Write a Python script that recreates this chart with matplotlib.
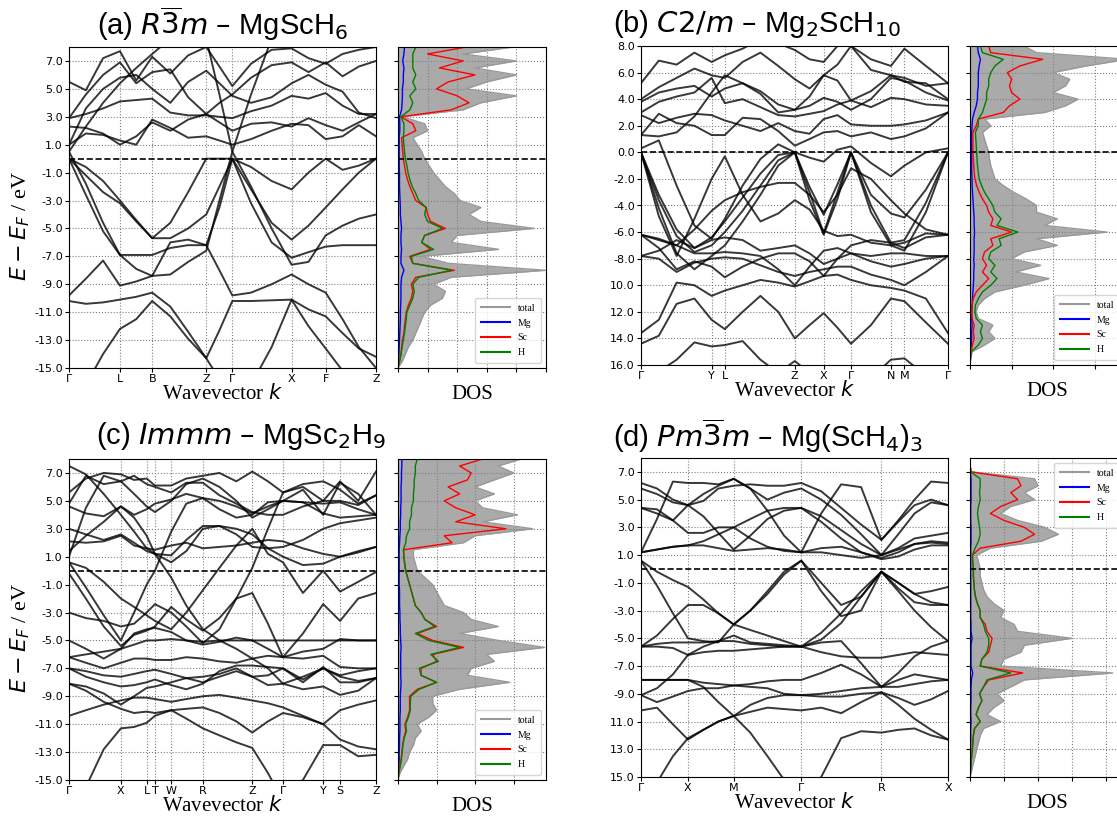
import numpy as np
import matplotlib
matplotlib.use("Agg")
import matplotlib.pyplot as plt

plt.rcParams['mathtext.fontset'] = 'dejavusans'
plt.rcParams['font.family'] = ['DejaVu Sans']

SERIF = 'Liberation Serif'
TITLE_FONT = 'Liberation Sans'

# ---------------- panel (a) R-3m MgScH6 ----------------
a_kgrid = [0, .055, .111, .166, .219, .271, .330, .388, .447, .490, .532,
           .593, .660, .725, .780, .836, .891, .944, 1.0]
a_ksym = [0, .166, .271, .447, .532, .725, .836, 1.0]
a_klab = ['Γ', 'L', 'B', 'Z', 'Γ', 'X', 'F', 'Z']
a_bands = [
    [-17.5, -16.2, -14.0, -12.2, -11.5, -10.2, -11.3, -12.9, -14.3, -15.8, -17.0, -16.2, -13.5, -10.1, -12.0, -13.6, -15.2, -16.5, -17.5],
    [-10.2, -10.4, -10.3, -10.1, -9.9, -9.6, -10.6, -12.4, -14.3, -12.3, -10.2, -10.2, -10.15, -10.1, -10.8, -11.3, -12.5, -13.6, -14.2],
    [-9.8, -8.6, -7.3, -9.1, -8.8, -8.4, -6.0, -5.8, -6.2, -8.0, -9.8, -9.6, -9.0, -8.3, -9.0, -9.6, -11.5, -13.5, -15.0],
    [0.0, -2.6, -5.2, -6.9, -6.9, -6.9, -6.4, -6.2, -6.2, -3.5, 0.0, -3.2, -6.0, -7.1, -6.7, -6.3, -6.2, -6.2, -6.2],
    [0.0, -1.2, -2.4, -3.2, -4.5, -5.7, -5.7, -5.0, -4.0, -2.0, 0.0, -2.2, -4.6, -5.8, -4.8, -3.5, -2.2, -1.0, 0.0],
    [0.5, -1.8, -4.6, -6.9, -7.9, -8.4, -8.3, -7.4, -6.6, -3.0, 0.5, -2.0, -5.0, -7.6, -7.4, -5.5, -4.8, -4.3, -4.0],
    [0.0, -0.6, -1.6, -3.0, -4.4, -5.7, -4.6, -2.4, 0.0, 0.0, 0.0, -0.6, -1.6, -2.2, -1.0, 0.0, -0.8, -0.5, 0.0],
    [0.5, 2.3, 4.0, 5.4, 6.5, 7.5, 8.6, 8.6, 8.6, 4.6, 0.5, 4.6, 8.6, 8.6, 8.6, 8.6, 8.6, 8.6, 8.6],
    [5.5, 4.9, 7.2, 7.7, 5.6, 7.3, 6.1, 7.4, 8.0, 6.6, 5.2, 6.8, 7.8, 7.9, 7.2, 6.8, 7.5, 7.8, 8.0],
    [2.9, 4.6, 6.0, 6.9, 5.4, 6.2, 6.4, 4.4, 3.2, 4.0, 4.6, 5.8, 6.7, 6.9, 6.2, 6.9, 5.9, 6.6, 7.0],
    [1.0, 3.6, 5.0, 5.8, 6.0, 5.0, 4.0, 5.5, 6.3, 5.4, 4.5, 4.0, 4.4, 5.4, 6.0, 5.3, 4.8, 3.3, 2.9],
    [2.9, 3.2, 3.6, 4.1, 4.2, 4.3, 3.3, 3.1, 3.1, 3.0, 2.9, 3.4, 3.8, 4.5, 4.3, 4.7, 3.8, 3.2, 3.2],
    [2.3, 2.2, 1.8, 1.0, 1.6, 2.6, 2.0, 2.8, 3.2, 2.6, 2.0, 2.5, 2.6, 2.3, 2.9, 2.4, 2.0, 2.6, 3.2],
    [1.0, 1.8, 1.7, 1.3, 1.0, 2.8, 2.2, 1.5, 1.6, 1.3, 1.0, 1.4, 2.0, 2.5, 2.4, 1.4, 1.6, 2.4, 1.6],
]
a_dos_e = np.arange(-15, 8.01, 0.5)
a_tot = [0.0, 0.15, 0.25, 0.35, 0.5, 0.6, 0.7, 0.8, 0.9, 1.1, 1.5, 1.6, 1.2, 1.8, 5.0, 1.7,
         0.8, 3.4, 1.8, 2.0, 4.6, 2.8, 2.4, 2.8, 2.1, 1.9, 1.6, 1.4, 1.2, 1.05, 0.9, 0.8,
         0.65, 0.5, 1.0, 0.9, 0.15, 2.2, 2.8, 4.0, 2.3, 3.0, 4.0, 2.6, 4.0, 2.2, 3.9]
a_mg = [0.0, 0.02, 0.03, 0.04, 0.05, 0.06, 0.07, 0.08, 0.08, 0.09, 0.1, 0.1, 0.1, 0.12, 0.2, 0.1,
        0.1, 0.12, 0.1, 0.1, 0.12, 0.1, 0.08, 0.08, 0.07, 0.06, 0.05, 0.05, 0.05, 0.04, 0.04, 0.04,
        0.04, 0.04, 0.06, 0.06, 0.05, 0.12, 0.14, 0.15, 0.15, 0.18, 0.18, 0.2, 0.16, 0.2, 0.22]
a_sc = [0.0, 0.05, 0.1, 0.12, 0.15, 0.2, 0.22, 0.25, 0.28, 0.35, 0.45, 0.5, 0.45, 0.6, 1.9, 0.5,
        0.4, 1.1, 0.8, 0.9, 1.6, 1.1, 1.0, 0.95, 0.6, 0.5, 0.4, 0.32, 0.26, 0.22, 0.18, 0.16,
        0.14, 0.12, 0.6, 0.5, 0.1, 1.8, 2.4, 2.0, 1.3, 1.7, 2.6, 1.4, 2.2, 1.0, 2.3]
a_h = [0.0, 0.06, 0.1, 0.14, 0.18, 0.22, 0.25, 0.28, 0.3, 0.4, 0.5, 0.55, 0.5, 0.7, 1.8, 0.5,
       0.45, 1.2, 0.8, 0.9, 1.5, 1.0, 0.9, 0.95, 0.7, 0.6, 0.48, 0.4, 0.34, 0.3, 0.25, 0.22,
       0.2, 0.18, 0.2, 0.2, 0.1, 0.4, 0.5, 0.4, 0.6, 0.5, 0.6, 0.5, 0.5, 0.5, 0.6]

# ---------------- panel (b) C2/m Mg2ScH10 ----------------
b_kgrid = [0, .058, .116, .174, .230, .273, .331, .389, .447, .501, .549,
           .595, .640, .684, .749, .814, .858, .928, 1.0]
b_ksym = [0, .230, .273, .501, .595, .684, .814, .858, 1.0]
b_klab = ['Γ', 'Y', 'L', 'Z', 'X', 'Γ', 'N', 'M', 'Γ']
b_bands = [
    [0.0, -3.2, -5.8, -7.2, -6.4, -5.2, -3.4, -1.6, -0.2, 0.0, -2.6, -4.7, -2.4, 0.0, -3.2, -4.6, -4.9, -2.8, 0.0],
    [0.0, -3.6, -6.3, -7.5, -7.0, -6.0, -4.4, -2.5, -0.6, 0.0, -3.0, -6.1, -3.0, 0.0, -4.0, -6.8, -6.6, -3.8, 0.0],
    [0.0, -4.2, -7.6, -8.8, -7.8, -7.0, -5.2, -3.2, -1.0, 0.0, -3.6, -6.2, -3.5, 0.0, -4.5, -7.0, -7.4, -4.5, 0.0],
    [0.0, -4.8, -7.8, -5.0, -2.0, -0.3, -3.2, -5.2, -4.6, -3.6, -4.3, -5.9, -6.3, -6.2, -6.8, -7.0, -6.8, -6.1, -6.2],
    [0.3, 0.9, -2.5, -5.5, -6.5, -5.0, -2.5, -0.5, 0.6, 0.0, -0.4, -0.7, 0.2, 0.45, -0.8, -1.8, -1.0, 0.0, 0.3],
    [-6.2, -6.6, -7.0, -5.8, -4.4, -3.6, -3.0, -2.6, -2.3, -2.3, -3.2, -4.5, -3.2, -1.2, -2.0, -3.6, -4.6, -5.8, -6.2],
    [-14.4, -13.8, -11.4, -11.0, -12.6, -13.3, -12.0, -10.8, -12.0, -14.0, -13.0, -12.1, -13.2, -14.4, -13.0, -11.0, -11.2, -12.8, -14.4],
    [-13.6, -12.6, -9.8, -10.0, -10.8, -10.4, -10.0, -9.6, -9.8, -10.1, -9.7, -9.3, -9.2, -9.6, -10.0, -10.2, -10.4, -11.0, -13.6],
    [-17.0, -16.5, -15.6, -14.3, -14.6, -14.5, -14.2, -15.6, -16.6, -15.7, -16.6, -17.5, -17.5, -17.5, -17.0, -15.6, -15.5, -16.8, -17.5],
    [-6.2, -6.5, -7.0, -7.6, -7.6, -7.5, -7.6, -7.8, -8.8, -10.0, -8.6, -7.4, -7.2, -7.6, -7.8, -7.6, -7.6, -7.8, -7.8],
    [-7.8, -7.4, -6.6, -7.2, -6.6, -6.4, -6.6, -7.4, -7.2, -7.0, -7.6, -8.4, -8.0, -7.6, -8.2, -8.6, -8.4, -8.0, -7.8],
    [-6.2, -7.2, -8.8, -8.2, -8.6, -9.4, -8.6, -8.0, -7.6, -7.6, -8.2, -9.3, -8.0, -7.0, -6.6, -6.8, -7.2, -6.4, -6.2],
    [-7.8, -8.0, -9.0, -8.3, -8.0, -7.9, -8.0, -8.5, -9.0, -9.3, -9.0, -8.8, -8.6, -8.6, -9.2, -9.6, -10.0, -9.0, -7.8],
    [5.2, 6.9, 6.6, 7.5, 6.8, 7.3, 7.8, 8.5, 8.2, 7.7, 7.0, 6.8, 8.0, 8.0, 7.0, 6.5, 7.8, 6.5, 5.2],
    [4.0, 4.9, 5.6, 6.3, 5.8, 5.6, 6.8, 7.5, 6.5, 5.5, 4.8, 5.8, 5.4, 3.9, 4.6, 5.8, 5.6, 5.0, 5.2],
    [3.8, 4.5, 4.8, 5.0, 4.2, 4.8, 5.2, 4.6, 3.6, 3.2, 3.5, 4.1, 3.8, 3.2, 4.0, 5.6, 5.4, 4.5, 3.9],
    [3.0, 3.8, 4.2, 4.5, 5.6, 3.7, 4.0, 3.4, 2.8, 2.7, 2.9, 3.1, 3.6, 3.9, 3.4, 4.1, 4.0, 3.6, 3.5],
    [2.8, 2.2, 2.6, 2.9, 2.8, 2.4, 2.0, 1.6, 2.2, 1.6, 1.4, 2.5, 2.8, 2.1, 2.0, 2.0, 2.1, 2.4, 3.0],
    [1.3, 2.9, 2.2, 2.0, 1.3, 1.3, 2.6, 2.5, 1.6, 0.5, 1.0, 1.5, 1.6, 1.2, 1.5, 1.0, 1.2, 1.8, 3.0],
    [1.3, 1.2, 1.5, 2.7, 4.5, 5.8, 5.2, 4.4, 3.0, 3.2, 4.2, 5.8, 6.6, 8.0, 6.2, 5.8, 5.3, 5.2, 4.0],
]
b_dos_e = np.arange(-16, 8.01, 0.5)
b_tot = [0.0, 0.02, 0.05, 0.35, 0.6, 0.45, 0.55, 0.2, 0.15, 0.2, 0.35, 0.6, 1.3, 1.9, 1.1, 1.7,
         1.0, 1.3, 2.1, 1.6, 3.3, 1.8, 2.1, 1.6, 1.6, 1.35, 1.05, 0.8, 0.6, 0.55, 0.5, 0.47,
         0.45, 0.4, 0.35, 0.3, 0.5, 0.35, 1.8, 2.3, 2.6, 2.0, 2.3, 2.4, 2.0, 2.8, 3.8, 1.6, 1.3]
b_mg = [0.0, 0.01, 0.01, 0.03, 0.04, 0.04, 0.05, 0.04, 0.04, 0.05, 0.06, 0.07, 0.08, 0.09, 0.09, 0.1,
        0.09, 0.1, 0.1, 0.1, 0.11, 0.1, 0.1, 0.09, 0.08, 0.07, 0.06, 0.05, 0.05, 0.04, 0.04, 0.04,
        0.04, 0.04, 0.04, 0.04, 0.05, 0.06, 0.1, 0.15, 0.18, 0.18, 0.2, 0.2, 0.2, 0.22, 0.25, 0.2, 0.18]
b_sc = [0.0, 0.01, 0.02, 0.06, 0.1, 0.08, 0.1, 0.05, 0.04, 0.05, 0.08, 0.15, 0.3, 0.45, 0.3, 0.4,
        0.3, 0.35, 0.55, 0.5, 1.0, 0.5, 0.55, 0.45, 0.4, 0.3, 0.22, 0.16, 0.12, 0.1, 0.09, 0.08,
        0.07, 0.07, 0.07, 0.07, 0.15, 0.2, 0.8, 0.95, 1.2, 1.0, 0.95, 1.0, 0.9, 1.2, 1.75, 0.5, 0.45]
b_h = [0.0, 0.01, 0.03, 0.2, 0.3, 0.25, 0.3, 0.15, 0.12, 0.13, 0.2, 0.3, 0.5, 0.65, 0.5, 0.6,
       0.45, 0.5, 0.75, 0.7, 1.15, 0.65, 0.75, 0.6, 0.55, 0.45, 0.35, 0.28, 0.22, 0.2, 0.18, 0.17,
       0.16, 0.15, 0.14, 0.13, 0.2, 0.2, 0.3, 0.35, 0.4, 0.4, 0.45, 0.45, 0.5, 0.6, 0.8, 0.3, 0.25]

# ---------------- panel (c) Immm MgSc2H9 ----------------
c_kgrid = [0, .055, .113, .169, .212, .253, .280, .333, .382, .436, .490,
           .545, .597, .648, .697, .762, .828, .883, .942, 1.0]
c_ksym = [0, .169, .253, .280, .333, .436, .597, .697, .828, .883, 1.0]
c_klab = ['Γ', 'X', 'L', 'T', 'W', 'R', 'Z', 'Γ', 'Y', 'S', 'Z']
c_bands = [
    [-17.0, -15.5, -12.8, -11.3, -11.2, -10.9, -10.4, -10.0, -10.6, -11.3, -11.8, -12.3, -12.7, -14.5, -16.5, -15.0, -12.5, -12.5, -13.3, -13.2],
    [-10.4, -10.0, -9.6, -9.3, -9.1, -9.1, -9.2, -9.4, -9.2, -9.0, -8.9, -9.1, -9.3, -9.5, -9.8, -10.4, -11.0, -12.1, -12.6, -12.8],
    [-8.1, -8.6, -9.4, -9.9, -10.2, -10.1, -10.2, -10.0, -9.9, -9.8, -10.2, -10.8, -11.6, -10.8, -10.2, -10.5, -11.0, -10.0, -9.6, -9.3],
    [-7.0, -7.2, -7.5, -7.6, -7.4, -7.2, -7.1, -7.4, -7.7, -8.0, -7.6, -7.2, -7.6, -7.5, -7.0, -7.8, -7.0, -7.5, -7.2, -7.0],
    [-6.2, -6.0, -5.8, -5.6, -5.3, -5.0, -5.0, -4.9, -5.0, -5.1, -5.0, -5.0, -5.0, -5.0, -5.0, -5.0, -5.0, -5.0, -5.0, -5.0],
    [-5.0, -5.6, -6.3, -5.6, -4.5, -4.2, -4.1, -4.4, -5.0, -5.3, -5.1, -4.8, -5.0, -5.6, -6.2, -5.8, -5.6, -4.9, -5.0, -5.0],
    [-7.0, -7.6, -8.0, -8.3, -8.2, -8.0, -7.8, -8.2, -8.5, -8.1, -7.2, -6.8, -6.8, -6.9, -7.0, -8.0, -6.9, -8.0, -8.0, -7.7],
    [-8.1, -8.3, -8.8, -9.6, -9.0, -8.4, -8.3, -8.0, -7.7, -7.6, -7.4, -7.0, -7.6, -8.2, -8.1, -8.5, -8.3, -8.9, -8.6, -7.7],
    [-6.2, -6.6, -7.0, -6.6, -6.3, -6.3, -6.4, -6.4, -6.2, -6.3, -6.5, -6.6, -6.3, -6.1, -6.2, -6.3, -6.1, -6.9, -7.0, -7.0],
    [0.6, -1.2, -3.2, -5.0, -3.0, -1.0, 0.0, 2.8, 4.8, 5.2, 5.0, 4.6, 4.1, 4.6, 5.0, 4.9, 4.8, 4.9, 4.4, 4.0],
    [-0.2, -2.0, -4.0, -5.4, -4.6, -4.3, -4.0, -2.6, -3.5, -4.3, -3.4, -2.0, -1.6, -3.8, -6.2, -4.5, -2.4, -3.6, -2.0, -1.6],
    [0.6, 0.2, -0.8, -2.0, -2.6, -3.2, -3.6, -4.2, -3.0, -1.4, 0.2, 1.8, 3.0, 1.2, 0.6, -1.6, 0.0, -1.5, -0.8, -0.1],
    [-3.0, -3.4, -3.6, -4.0, -3.8, -3.0, -2.4, -3.0, -4.0, -5.2, -4.2, -2.0, 0.2, 3.0, 5.6, 6.2, 6.4, 5.8, 4.8, 5.4],
    [5.6, 6.6, 7.0, 6.9, 6.5, 6.6, 6.1, 6.1, 6.6, 6.8, 7.0, 6.4, 7.1, 6.4, 5.6, 6.0, 5.0, 6.4, 5.0, 7.1],
    [4.8, 6.8, 6.2, 6.4, 6.8, 6.2, 6.0, 5.6, 6.3, 6.3, 5.4, 4.8, 4.2, 4.0, 4.0, 4.6, 5.0, 5.0, 4.7, 5.4],
    [4.6, 4.1, 3.9, 4.6, 4.0, 4.4, 4.8, 5.1, 5.5, 5.2, 4.4, 3.8, 4.0, 4.9, 5.0, 4.9, 4.1, 3.8, 3.9, 4.0],
    [3.0, 2.6, 2.2, 2.6, 2.0, 1.4, 1.2, 1.1, 2.2, 3.2, 3.2, 2.6, 1.7, 1.6, 1.7, 2.2, 3.0, 3.4, 3.6, 3.8],
    [2.1, 2.0, 2.1, 2.5, 1.8, 1.6, 1.5, 1.8, 2.0, 1.6, 1.7, 1.8, 2.0, 2.2, 2.1, 1.6, 1.2, 1.0, 1.3, 1.7],
    [1.4, 2.5, 3.5, 4.6, 3.8, 2.5, 1.2, 0.6, 1.4, 3.0, 3.2, 3.0, 2.6, 1.6, 1.0, 0.4, 0.5, 1.0, 1.4, 1.7],
    [1.0, 4.5, 6.8, 6.4, 5.5, 4.6, 4.2, 5.0, 6.2, 6.6, 6.0, 5.0, 3.8, 4.4, 5.0, 5.8, 4.0, 6.3, 5.5, 4.0],
    [7.5, 6.9, 5.5, 4.0, 2.8, 1.6, 1.2, -0.5, -2.5, -4.2, -5.0, -5.6, -6.3, -7.0, -8.1, -7.6, -7.0, -7.6, -7.9, -7.7],
]
c_dos_e = np.arange(-15, 8.01, 0.5)
c_tot = [0.0, 0.05, 0.15, 0.25, 0.3, 0.4, 0.45, 0.6, 0.5, 0.8, 1.0, 0.9, 0.9, 1.6, 2.9, 1.8,
         1.9, 2.5, 2.3, 3.8, 2.6, 1.6, 2.6, 1.9, 1.7, 1.2, 1.1, 1.0, 0.9, 0.7, 0.5, 0.45,
         0.4, 0.4, 1.7, 2.0, 3.5, 2.2, 3.1, 2.2, 2.0, 2.5, 2.0, 2.5, 3.0, 2.6, 3.2]
c_mg = [0.0, 0.01, 0.02, 0.03, 0.03, 0.04, 0.04, 0.05, 0.05, 0.05, 0.06, 0.06, 0.06, 0.07, 0.08, 0.07,
        0.07, 0.07, 0.07, 0.08, 0.07, 0.06, 0.06, 0.05, 0.05, 0.04, 0.04, 0.04, 0.03, 0.03, 0.03, 0.03,
        0.03, 0.03, 0.04, 0.05, 0.06, 0.06, 0.07, 0.07, 0.08, 0.08, 0.08, 0.09, 0.09, 0.1, 0.1]
c_sc = [0.0, 0.02, 0.05, 0.08, 0.1, 0.12, 0.15, 0.2, 0.18, 0.25, 0.3, 0.3, 0.3, 0.5, 1.0, 0.6,
        0.6, 1.0, 0.9, 1.7, 0.9, 0.5, 1.0, 0.7, 0.6, 0.45, 0.4, 0.35, 0.3, 0.25, 0.2, 0.18,
        0.15, 0.15, 1.4, 1.2, 2.8, 1.5, 2.0, 1.5, 1.2, 1.6, 1.3, 1.8, 1.9, 1.6, 2.2]
c_h = [0.0, 0.02, 0.06, 0.09, 0.11, 0.13, 0.16, 0.22, 0.2, 0.27, 0.32, 0.32, 0.33, 0.55, 1.0, 0.6,
       0.55, 1.05, 0.85, 1.6, 0.8, 0.45, 0.95, 0.7, 0.6, 0.45, 0.4, 0.35, 0.3, 0.25, 0.2, 0.17,
       0.15, 0.14, 0.2, 0.22, 0.3, 0.3, 0.35, 0.35, 0.4, 0.4, 0.42, 0.42, 0.45, 0.45, 0.5]

# ---------------- panel (d) Pm-3m Mg(ScH4)3 ----------------
d_kgrid = [0, .052, .104, .153, .203, .252, .302, .356, .412, .466, .522,
           .587, .652, .717, .783, .838, .891, .945, 1.0]
d_ksym = [0, .153, .302, .522, .783, 1.0]
d_klab = ['Γ', 'X', 'M', 'Γ', 'R', 'X']
d_bands = [
    [-17.0, -15.4, -13.5, -12.2, -11.6, -11.0, -10.6, -11.8, -13.5, -15.2, -17.0, -15.0, -12.2, -11.7, -11.8, -11.6, -11.5, -12.0, -12.3],
    [-10.2, -10.0, -11.2, -12.3, -11.6, -11.0, -10.6, -10.3, -10.0, -10.1, -10.2, -10.0, -10.4, -9.6, -8.9, -9.8, -10.8, -11.6, -12.3],
    [-9.1, -9.6, -9.2, -8.8, -8.6, -8.6, -8.4, -8.5, -8.6, -9.0, -9.1, -9.2, -9.2, -9.0, -8.9, -9.3, -9.8, -9.4, -8.8],
    [-8.0, -8.0, -8.0, -8.0, -8.5, -9.6, -10.6, -9.8, -9.3, -9.1, -9.1, -9.0, -8.8, -8.6, -8.5, -8.5, -8.3, -8.1, -8.0],
    [-8.0, -8.0, -8.0, -8.0, -8.2, -8.3, -8.4, -8.3, -8.1, -8.0, -8.0, -7.5, -6.9, -7.6, -8.5, -8.0, -7.6, -7.8, -8.0],
    [-9.1, -8.6, -7.6, -6.2, -5.6, -5.2, -4.8, -5.3, -5.4, -5.5, -5.6, -5.3, -5.2, -6.8, -8.5, -7.5, -6.3, -5.6, -5.2],
    [-5.6, -5.4, -5.3, -5.3, -5.3, -5.2, -5.2, -5.4, -5.5, -5.6, -5.6, -6.0, -6.3, -6.4, -6.4, -6.2, -6.0, -6.1, -6.2],
    [-5.6, -5.6, -5.7, -6.2, -6.0, -5.9, -5.9, -5.8, -5.7, -5.6, -5.6, -5.1, -3.9, -2.0, -0.2, -1.6, -3.0, -4.2, -5.2],
    [0.6, -1.2, -3.2, -5.0, -5.2, -5.3, -4.0, -3.0, -1.8, -0.4, 0.6, -1.6, -3.4, -3.0, -0.2, -1.0, -1.8, -2.4, -2.6],
    [0.6, -0.2, -0.8, -1.3, -2.2, -3.2, -4.0, -3.0, -1.6, -0.2, 0.6, -1.0, -2.6, -2.0, -0.2, -1.0, -1.8, -1.6, -1.3],
    [-5.6, -4.8, -3.6, -2.6, -2.6, -3.2, -4.0, -4.4, -4.8, -5.2, -5.6, -4.6, -3.2, -1.6, -0.2, -1.4, -2.4, -2.6, -2.6],
    [1.2, 3.6, 6.3, 6.2, 6.2, 6.1, 6.5, 5.8, 4.2, 2.4, 1.2, 4.0, 6.1, 5.9, 2.1, 3.5, 5.0, 6.3, 6.2],
    [6.2, 5.8, 5.0, 4.6, 4.9, 5.8, 6.0, 6.1, 6.0, 6.0, 6.2, 5.6, 4.4, 3.2, 2.1, 3.4, 4.6, 5.0, 4.6],
    [5.8, 5.4, 4.8, 4.6, 5.4, 6.0, 6.5, 5.8, 5.0, 5.5, 5.8, 5.0, 3.9, 2.5, 1.0, 2.5, 4.0, 4.8, 4.6],
    [4.4, 4.3, 3.5, 2.6, 2.6, 3.0, 3.0, 3.6, 4.2, 4.4, 4.4, 3.8, 2.8, 1.8, 1.0, 1.5, 2.2, 2.4, 2.6],
    [4.4, 4.0, 3.5, 4.6, 3.8, 2.6, 1.4, 2.4, 3.6, 4.2, 4.4, 3.4, 2.2, 1.2, 0.8, 1.2, 1.8, 2.0, 1.9],
    [1.2, 1.4, 1.6, 1.7, 2.0, 2.5, 3.0, 2.2, 1.6, 1.3, 1.2, 1.5, 1.6, 1.2, 0.7, 0.9, 1.4, 1.7, 1.7],
    [1.2, 1.4, 1.6, 1.7, 1.7, 1.5, 1.3, 1.4, 1.5, 1.4, 1.2, 1.2, 1.0, 0.8, 1.0, 1.4, 1.8, 1.9, 1.8],
]
d_dos_e = np.arange(-15, 8.01, 0.5)
d_tot = [0.0, 0.05, 0.1, 0.15, 0.2, 0.25, 0.3, 0.4, 0.9, 0.5, 0.7, 1.0, 0.8, 1.2, 1.6, 4.2,
         0.9, 1.0, 1.5, 1.6, 3.0, 1.4, 1.3, 0.9, 1.0, 0.7, 0.5, 0.4, 0.35, 0.3, 0.3, 0.25,
         0.2, 0.6, 2.1, 2.6, 2.2, 1.4, 0.9, 1.2, 1.9, 1.6, 2.0, 1.9, 0.05, 0.0, 0.0]
d_mg = [0.0, 0.01, 0.01, 0.01, 0.01, 0.02, 0.02, 0.02, 0.03, 0.02, 0.02, 0.03, 0.03, 0.03, 0.04, 0.08,
        0.03, 0.03, 0.03, 0.03, 0.06, 0.03, 0.03, 0.02, 0.02, 0.02, 0.02, 0.02, 0.02, 0.02, 0.02, 0.02,
        0.02, 0.02, 0.03, 0.03, 0.03, 0.02, 0.02, 0.02, 0.03, 0.03, 0.03, 0.03, 0.01, 0.0, 0.0]
d_sc = [0.0, 0.02, 0.03, 0.05, 0.06, 0.08, 0.1, 0.13, 0.3, 0.18, 0.25, 0.35, 0.28, 0.4, 0.55, 1.55,
        0.3, 0.35, 0.55, 0.6, 0.65, 0.5, 0.45, 0.3, 0.3, 0.22, 0.16, 0.13, 0.12, 0.1, 0.1, 0.08,
        0.07, 0.3, 1.5, 1.9, 1.6, 1.0, 0.6, 0.9, 1.4, 1.2, 1.5, 1.4, 0.03, 0.0, 0.0]
d_h = [0.0, 0.02, 0.03, 0.05, 0.07, 0.09, 0.1, 0.14, 0.3, 0.18, 0.25, 0.35, 0.28, 0.4, 0.5, 1.2,
       0.3, 0.35, 0.5, 0.55, 0.55, 0.45, 0.4, 0.3, 0.3, 0.22, 0.16, 0.13, 0.11, 0.1, 0.1, 0.08,
       0.07, 0.15, 0.25, 0.3, 0.28, 0.25, 0.22, 0.25, 0.3, 0.28, 0.3, 0.3, 0.02, 0.0, 0.0]

# y tick labels as printed in the figure (long negative labels lost their sign there)
odd_ticks = [7, 5, 3, 1, -1, -3, -5, -7, -9, -11, -13, -15]
odd_labels = ['7.0', '5.0', '3.0', '1.0', '-1.0', '-3.0', '-5.0', '-7.0', '-9.0',
              '-11.0', '-13.0', '-15.0']
d_labels = ['7.0', '5.0', '3.0', '1.0', '-1.0', '-3.0', '-5.0', '-7.0', '-9.0',
            '11.0', '13.0', '15.0']
even_ticks = [8, 6, 4, 2, 0, -2, -4, -6, -8, -10, -12, -14, -16]
even_labels = ['8.0', '6.0', '4.0', '2.0', '0.0', '-2.0', '-4.0', '-6.0', '-8.0',
               '10.0', '12.0', '14.0', '16.0']

W, H = 1117, 821
fig = plt.figure(figsize=(W / 100, H / 100), dpi=100)


def px_axes(x0, y0, w, h):
    # axes placed in pixel units, measured from the top-left corner
    return fig.add_axes([x0 / W, 1 - (y0 + h) / H, w / W, h / H])


panels = [
    # band x, top, height, dos x, dos width, ...
    (69, 47, 321, 398, 148, a_kgrid, a_ksym, a_klab, a_bands, (-15, 8), odd_ticks, odd_labels,
     a_dos_e, a_tot, a_mg, a_sc, a_h, 5.0, 'lower right'),
    (641, 46, 319, 970, 155, b_kgrid, b_ksym, b_klab, b_bands, (-16, 8), even_ticks, even_labels,
     b_dos_e, b_tot, b_mg, b_sc, b_h, 3.73, 'lower right'),
    (69, 459, 321, 398, 148, c_kgrid, c_ksym, c_klab, c_bands, (-15, 8), odd_ticks, odd_labels,
     c_dos_e, c_tot, c_mg, c_sc, c_h, 3.84, 'lower right'),
    (641, 458, 319, 970, 155, d_kgrid, d_ksym, d_klab, d_bands, (-15, 8), odd_ticks, d_labels,
     d_dos_e, d_tot, d_mg, d_sc, d_h, 4.56, 'upper right'),
]

for (bx, top, hh, dx, dw, kgrid, ksym, klab, bands, ylim, yt, ytl,
     dos_e, tot, mg, sc, hd, dxmax, legloc) in panels:
    # band structure
    ax = px_axes(bx, top, 307, hh)
    for b in bands:
        ax.plot(kgrid, b, color='k', lw=1.4, alpha=0.78)
    ax.axhline(0, color='k', ls='--', lw=1.2)
    ax.set_xlim(0, 1)
    ax.set_ylim(*ylim)
    ax.set_xticks(ksym)
    ax.set_xticklabels(klab, fontsize=8)
    ax.set_yticks(yt)
    ax.set_yticklabels(ytl, fontsize=8)
    ax.tick_params(length=3, pad=1.5)
    ax.grid(True, ls=':', color='gray', lw=0.8)
    ax.set_xlabel('Wavevector $k$', fontsize=15, family=SERIF, labelpad=0)

    # density of states
    dax = px_axes(dx, top, dw, hh)
    dax.fill_betweenx(dos_e, 0, tot, color='#aaaaaa', lw=0)
    dax.plot(tot, dos_e, color='#999999', lw=1.0, label='total')
    dax.plot(mg, dos_e, color='blue', lw=1.0, label='Mg')
    dax.plot(sc, dos_e, color='red', lw=1.0, label='Sc')
    dax.plot(hd, dos_e, color='green', lw=1.0, label='H')
    dax.axhline(0, color='k', ls='--', lw=1.2)
    dax.set_xlim(0, dxmax)
    dax.set_ylim(*ylim)
    dax.set_xticks(np.arange(0, dxmax + 0.01, 1.0))
    dax.set_xticklabels([])
    dax.set_yticks(yt)
    dax.set_yticklabels([])
    dax.tick_params(length=3)
    dax.grid(True, ls=':', color='gray', lw=0.8)
    dax.set_xlabel('DOS', fontsize=15, family=SERIF, labelpad=6)
    leg = dax.legend(loc=legloc, prop={'family': SERIF, 'size': 7},
                     handlelength=3, borderpad=0.6, labelspacing=0.6)
    for line in leg.get_lines():
        line.set_linewidth(1.5)

titles = [
    (97, 24, r'(a) $R\overline{3}m$ – MgScH$_6$'),
    (613, 24, r'(b) $C2/m$ – Mg$_2$ScH$_{10}$'),
    (96, 436, r'(c) $Immm$ – MgSc$_2$H$_9$'),
    (613, 436, r'(d) $Pm\overline{3}m$ – Mg(ScH$_4$)$_3$'),
]
for x, y, t in titles:
    fig.text(x / W, 1 - y / H, t, fontsize=21, family=TITLE_FONT, ha='left', va='center')

for y in (226, 638):
    fig.text(20 / W, 1 - y / H, r'$E-E_F$ / eV', fontsize=16, family=SERIF,
             rotation=90, ha='center', va='center')

fig.savefig('out.png', dpi=100)
